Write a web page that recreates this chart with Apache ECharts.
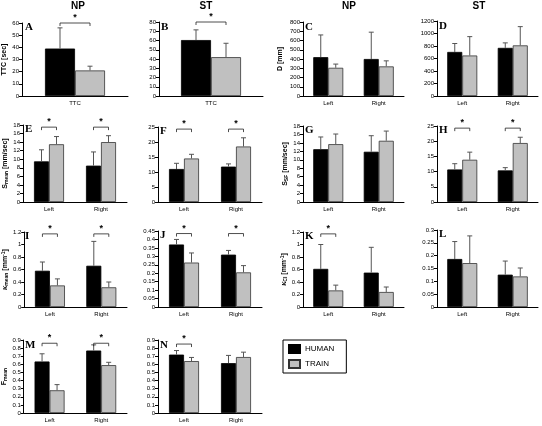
<!DOCTYPE html>
<html><head><meta charset="utf-8">
<script src="https://cdn.jsdelivr.net/npm/echarts@6/dist/echarts.min.js"></script>
<style>html,body{margin:0;padding:0;background:#fff}#c{width:542px;height:426px}</style>
</head><body><div id="c"></div>
<script>
// ---- categories ----
const catsTTC = ['TTC'];
const catsLR = ['Left', 'Right'];
// ---- data: mean values, upper error-bar ends, significance bracket levels ----
const A_human = [39],   A_humanHi = [56],   A_train = [21],   A_trainHi = [24.5], A_sig = [60];
const B_human = [60.5], B_humanHi = [71.5], B_train = [42],   B_trainHi = [57],   B_sig = [80];
const C_human = [420, 400], C_humanHi = [660, 690], C_train = [305, 320], C_trainHi = [345, 380], C_sig = [null, null];
const D_human = [705, 770], D_humanHi = [840, 850], D_train = [648, 810], D_trainHi = [950, 1110], D_sig = [null, null];
const E_human = [9.5, 8.5], E_humanHi = [12.2, 11.7], E_train = [13.5, 14.0], E_trainHi = [15.3, 15.5], E_sig = [17.5, 17.5];
const F_human = [11, 11.8], F_humanHi = [12.9, 12.7], F_train = [14.5, 18.5], F_trainHi = [15.9, 21.4], F_sig = [24.3, 24.3];
const G_human = [12.5, 11.9], G_humanHi = [15.4, 15.7], G_train = [13.7, 14.5], G_trainHi = [16.1, 16.8], G_sig = [null, null];
const H_human = [10.7, 10.4], H_humanHi = [12.6, 11.3], H_train = [13.9, 19.4], H_trainHi = [16.4, 21.3], H_sig = [24.3, 24.3];
const I_human = [0.58, 0.66], I_humanHi = [0.72, 1.05], I_train = [0.345, 0.315], I_trainHi = [0.45, 0.40], I_sig = [1.17, 1.17];
const J_human = [0.37, 0.31], J_humanHi = [0.40, 0.335], J_train = [0.263, 0.205], J_trainHi = [0.32, 0.245], J_sig = [0.435, 0.435];
const K_human = [0.61, 0.55], K_humanHi = [1.0, 0.955], K_train = [0.265, 0.24], K_trainHi = [0.35, 0.32], K_sig = [1.17, null];
const L_human = [0.187, 0.126], L_humanHi = [0.255, 0.179], L_train = [0.171, 0.119], L_trainHi = [0.277, 0.152], L_sig = [null, null];
const M_human = [0.635, 0.77], M_humanHi = [0.73, 0.84], M_train = [0.28, 0.59], M_trainHi = [0.35, 0.625], M_sig = [0.86, 0.86];
const N_human = [0.72, 0.615], N_humanHi = [0.77, 0.71], N_train = [0.64, 0.69], N_trainHi = [0.685, 0.75], N_sig = [0.85, null];
// ---- axis ranges ----
const yMax = {A:60,B:80,C:800,D:1200,E:18,F:25,G:18,H:25,I:1.2,J:0.45,K:1.2,L:0.3,M:0.9,N:0.9};
const yStep = {A:10,B:10,C:100,D:200,E:2,F:5,G:2,H:5,I:0.2,J:0.05,K:0.2,L:0.05,M:0.1,N:0.1};

const D_ = {
  A:[catsTTC,A_human,A_humanHi,A_train,A_trainHi,A_sig], B:[catsTTC,B_human,B_humanHi,B_train,B_trainHi,B_sig],
  C:[catsLR,C_human,C_humanHi,C_train,C_trainHi,C_sig], D:[catsLR,D_human,D_humanHi,D_train,D_trainHi,D_sig],
  E:[catsLR,E_human,E_humanHi,E_train,E_trainHi,E_sig], F:[catsLR,F_human,F_humanHi,F_train,F_trainHi,F_sig],
  G:[catsLR,G_human,G_humanHi,G_train,G_trainHi,G_sig], H:[catsLR,H_human,H_humanHi,H_train,H_trainHi,H_sig],
  I:[catsLR,I_human,I_humanHi,I_train,I_trainHi,I_sig], J:[catsLR,J_human,J_humanHi,J_train,J_trainHi,J_sig],
  K:[catsLR,K_human,K_humanHi,K_train,K_trainHi,K_sig], L:[catsLR,L_human,L_humanHi,L_train,L_trainHi,L_sig],
  M:[catsLR,M_human,M_humanHi,M_train,M_trainHi,M_sig], N:[catsLR,N_human,N_humanHi,N_train,N_trainHi,N_sig]
};

// ---- layout (pixels) ----
const layout = {
  A:{l:22,t:23,w:106,h:73,bw:30,name:'TTC [sec]',ng:14},
  B:{l:159,t:22,w:104,h:74,bw:30},
  C:{l:303,t:22,w:101,h:74,bw:15,name:'D [mm]',ng:19},
  D:{l:437,t:21,w:101,h:75,bw:15},
  E:{l:23,t:125,w:104,h:77,bw:15,name:'{b|S}{s|mean} [mm/sec]',ng:13},
  F:{l:158,t:127,w:104,h:75,bw:15},
  G:{l:303,t:126,w:101,h:76,bw:15,name:'{b|S}{s|SF} [mm/sec]',ng:14},
  H:{l:437,t:126,w:101,h:76,bw:15},
  I:{l:23,t:232,w:104,h:75,bw:15,name:'{i|κ}{s|mean} [mm{u|-1}]',ng:15},
  J:{l:158,t:231,w:104,h:76,bw:15},
  K:{l:303,t:232,w:101,h:75,bw:15,name:'{i|κ}{s|CI} [mm{u|-1}]',ng:15},
  L:{l:437,t:230,w:101,h:77,bw:15},
  M:{l:23,t:340,w:104,h:73,bw:15,name:'{b|F}{s|mean}',ng:15},
  N:{l:158,t:340,w:104,h:73,bw:15}
};
const letterPos = {A:[25,22],B:[161,22],C:[305,22],D:[439,21],E:[25,124],F:[160,126],G:[305,125],H:[439,125],
  I:[25,231],J:[160,230],K:[305,231],L:[439,229],M:[25,340],N:[160,340]};

const FONT = 'Liberation Sans';
const grids=[], xAxes=[], yAxes=[], series=[], graphics=[];
Object.keys(layout).forEach((k,i)=>{
  const L = layout[k]; const [cats,h,hHi,tr,tHi,sig] = D_[k];
  grids.push({left:L.l, top:L.t, width:L.w, height:L.h});
  xAxes.push({type:'category', gridIndex:i, data:cats,
    axisLine:{lineStyle:{color:'#000',width:1}}, axisTick:{length:3,lineStyle:{color:'#000'}},
    axisLabel:{fontSize:6,color:'#000',margin:4,fontFamily:FONT}});
  yAxes.push({type:'value', gridIndex:i, min:0, max:yMax[k], interval:yStep[k], splitLine:{show:false},
    axisLine:{show:true,lineStyle:{color:'#000',width:1}}, axisTick:{show:true,length:3,lineStyle:{color:'#000'}},
    axisLabel:{fontSize:6,color:'#000',margin:3,fontFamily:FONT,formatter:v=>String(+v.toFixed(4))},
    name:L.name||'', nameLocation:'middle', nameGap:L.ng||10, nameRotate:90,
    nameTextStyle:{fontSize:7,fontWeight:'bold',color:'#000',fontFamily:FONT,
      rich:{b:{fontSize:7,fontWeight:'bold',fontFamily:FONT},
            i:{fontSize:8,fontWeight:'bold',fontStyle:'italic',fontFamily:'Liberation Serif'},
            s:{fontSize:5,fontWeight:'bold',fontFamily:FONT,verticalAlign:'bottom',padding:[3,0,0,0]},
            u:{fontSize:5,fontWeight:'bold',fontFamily:FONT,verticalAlign:'top',padding:[0,0,3,0]}}}});
  series.push({type:'bar',name:'HUMAN',xAxisIndex:i,yAxisIndex:i,data:h,barWidth:L.bw,barGap:'0%',
    itemStyle:{color:'#000',borderColor:'#000',borderWidth:0.8},silent:true});
  series.push({type:'bar',name:'TRAIN',xAxisIndex:i,yAxisIndex:i,data:tr,barWidth:L.bw,barGap:'0%',
    itemStyle:{color:'#c0c0c0',borderColor:'#333',borderWidth:0.8},silent:true});
  [[h,hHi,-1],[tr,tHi,1]].forEach(([vals,his,side])=>{
    series.push({type:'custom',xAxisIndex:i,yAxisIndex:i,silent:true,z:5,clip:false,
      data:vals.map((v,j)=>[j,v,his[j]]), encode:{x:0,y:[1,2]},
      renderItem:(p,api)=>{
        const b=api.coord([api.value(0),api.value(1)]), t=api.coord([api.value(0),api.value(2)]);
        const cx=b[0]+side*L.bw/2;
        return {type:'group',children:[
          {type:'line',shape:{x1:cx,y1:b[1],x2:cx,y2:t[1]},style:{stroke:'#555',lineWidth:1}},
          {type:'line',shape:{x1:cx-2.5,y1:t[1],x2:cx+2.5,y2:t[1]},style:{stroke:'#555',lineWidth:1}}]};
      }});
  });
  const sd = sig.flatMap((v,j)=> v==null?[]:[[j,v]]);
  if (sd.length) series.push({type:'custom',xAxisIndex:i,yAxisIndex:i,silent:true,z:6,clip:false,
    data:sd, encode:{x:0,y:1},
    renderItem:(p,api)=>{
      const c=api.coord([api.value(0),api.value(1)]);
      const x1=c[0]-L.bw/2, x2=c[0]+L.bw/2;
      return {type:'group',children:[
        {type:'polyline',shape:{points:[[x1,c[1]+3],[x1,c[1]],[x2,c[1]],[x2,c[1]+3]]},style:{stroke:'#222',lineWidth:0.8,fill:null}},
        {type:'text',x:c[0],y:c[1]-1,style:{text:'*',textAlign:'center',textVerticalAlign:'bottom',font:'bold 9px '+FONT,fill:'#000'}}]};
    }});
  const lp = letterPos[k];
  graphics.push({type:'text',x:lp[0],y:lp[1],z:10,style:{text:k,font:'bold 11px "Liberation Serif"',fill:'#000'}});
});
[['NP',78],['ST',206],['NP',349],['ST',479]].forEach(([t,x])=>{
  graphics.push({type:'text',x:x,y:1,style:{text:t,textAlign:'center',font:'bold 10px '+FONT,fill:'#000'}});
});

const chart = echarts.init(document.getElementById('c'),null,{renderer:'canvas'});
chart.setOption({
  animation:false,
  grid:grids, xAxis:xAxes, yAxis:yAxes, series:series, graphic:graphics,
  legend:{data:['HUMAN','TRAIN'],orient:'vertical',left:283,top:340,itemWidth:11,itemHeight:8,itemGap:5,
    icon:'rect',borderColor:'#000',borderWidth:1,padding:[4,12,4,5],
    textStyle:{fontSize:8,color:'#000',fontFamily:FONT}}
});
</script></body></html>
